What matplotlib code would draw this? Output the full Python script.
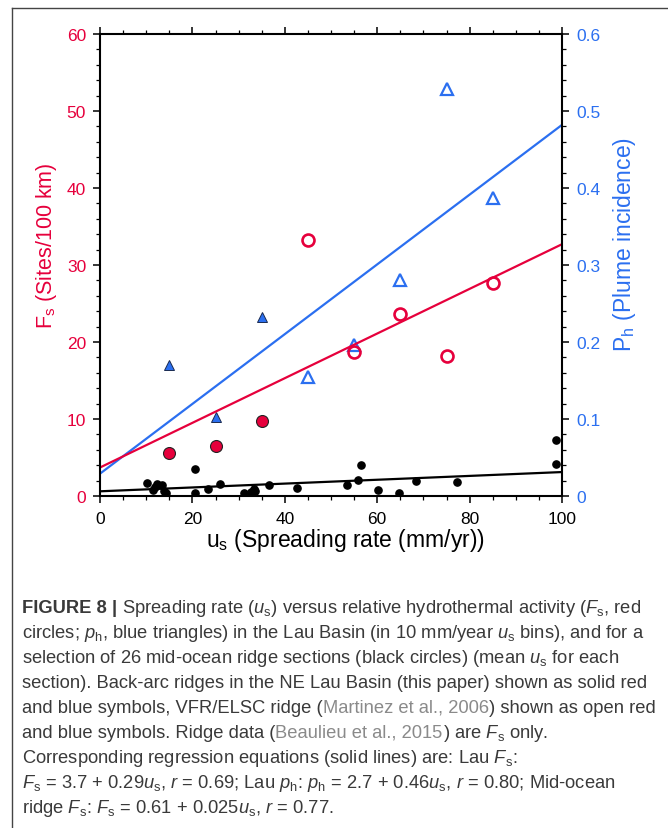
import matplotlib
matplotlib.use("Agg")
import matplotlib.pyplot as plt
from matplotlib.lines import Line2D
from matplotlib.ticker import MultipleLocator, FuncFormatter
import numpy as np

plt.rcParams['font.family'] = ['Liberation Sans', 'DejaVu Sans']
plt.rcParams['mathtext.fontset'] = 'custom'
plt.rcParams['mathtext.rm'] = 'Liberation Sans'
plt.rcParams['mathtext.it'] = 'Liberation Sans:italic'
plt.rcParams['mathtext.bf'] = 'Liberation Sans:bold'

# ---------------- data ----------------
lau_ne_us = [15, 25, 35]
lau_ne_fs = [5.6, 6.5, 9.7]
lau_ne_ph = [0.170, 0.102, 0.233]

vfr_us = [45, 55, 65, 75, 85]
vfr_fs = [33.2, 18.7, 23.6, 18.2, 27.6]
vfr_ph = [0.154, 0.196, 0.281, 0.529, 0.387]

mor_us = [10.2, 11.9, 11.5, 12.3, 13.4, 14.2, 13.9, 20.6, 20.5, 23.4, 25.9,
          31.1, 32.6, 33.3, 33.6, 36.6, 42.6, 53.5, 55.9, 56.4, 60.2, 64.8,
          68.4, 77.3, 98.6, 98.6]
mor_fs = [1.65, 1.2, 0.8, 1.5, 1.45, 0.35, 0.6, 3.5, 0.45, 0.85, 1.6,
          0.45, 0.5, 0.95, 0.6, 1.4, 1.0, 1.4, 2.1, 4.0, 0.75, 0.45,
          1.9, 1.85, 7.3, 4.2]

fit_lau_fs = (3.7, 0.29)      # intercept, slope
fit_lau_ph = (0.029, 0.00453)
fit_mor_fs = (0.61, 0.025)

x_ticks = [0, 20, 40, 60, 80, 100]
y_ticks = [0, 10, 20, 30, 40, 50, 60]
y2_ticks = [0, 0.1, 0.2, 0.3, 0.4, 0.5, 0.6]

RED = '#E6003C'
BLUE = '#2B6FF0'
GRAY = '#3a3a3a'
LGRAY = '#8a8a8a'

W, H = 668, 829
fig = plt.figure(figsize=(W / 100, H / 100), dpi=100)

# frame around figure
fig.add_artist(Line2D([12 / W, 1], [1 - 9 / H, 1 - 9 / H], transform=fig.transFigure,
                      color='#444444', lw=1.0))
fig.add_artist(Line2D([12 / W, 12 / W], [0, 1 - 9 / H], transform=fig.transFigure,
                      color='#444444', lw=1.0))

ax_l, ax_t, ax_r, ax_b = 100, 35, 562, 497
rect = [ax_l / W, 1 - ax_b / H, (ax_r - ax_l) / W, (ax_b - ax_t) / H]
ax2 = fig.add_axes(rect)
ax = fig.add_axes(rect)
ax.patch.set_visible(False)
ax2.set_zorder(1)
ax.set_zorder(2)

xs = np.array([0, 100])
# blue (right axis)
ax2.plot(xs, fit_lau_ph[0] + fit_lau_ph[1] * xs, color=BLUE, lw=1.6, zorder=2)
ax2.plot(lau_ne_us, lau_ne_ph, linestyle='none', marker='^', ms=7.5, mfc=BLUE,
         mec='#1a2a50', mew=0.7, zorder=3)
ax2.plot(vfr_us, vfr_ph, linestyle='none', marker='^', ms=8.0, mfc='none',
         mec=BLUE, mew=1.6, zorder=3)

# red and black (left axis)
ax.plot(xs, fit_lau_fs[0] + fit_lau_fs[1] * xs, color=RED, lw=1.6, zorder=2)
ax.plot(xs, fit_mor_fs[0] + fit_mor_fs[1] * xs, color='black', lw=1.6, zorder=2)
ax.plot(mor_us, mor_fs, linestyle='none', marker='o', ms=5.2, mfc='black',
        mec='black', zorder=3)
ax.plot(lau_ne_us, lau_ne_fs, linestyle='none', marker='o', ms=8.6, mfc=RED,
        mec='#222222', mew=0.8, zorder=4)
ax.plot(vfr_us, vfr_fs, linestyle='none', marker='o', ms=8.6, mfc='none',
        mec=RED, mew=1.9, zorder=4)

for a in (ax, ax2):
    a.set_xlim(0, 100)
    a.xaxis.set_major_locator(MultipleLocator(20))
    a.xaxis.set_minor_locator(MultipleLocator(5))
ax.set_ylim(0, 60)
ax2.set_ylim(0, 0.6)
ax.set_yticks(y_ticks)
ax.yaxis.set_minor_locator(MultipleLocator(2))
ax2.set_yticks(y2_ticks)
ax2.yaxis.set_minor_locator(MultipleLocator(0.02))
ax.set_xticks(x_ticks)

ax2.yaxis.tick_right()
ax2.yaxis.set_major_formatter(FuncFormatter(lambda v, p: '0' if abs(v) < 1e-9 else f'{v:.1f}'))
ax2.tick_params(axis='x', which='both', bottom=False, top=False, labelbottom=False)
for s in ax2.spines.values():
    s.set_visible(False)

for s in ax.spines.values():
    s.set_linewidth(1.5)
ax.spines['right'].set_visible(True)

TICK_FS = 12.5
ax.tick_params(axis='both', which='major', direction='out', length=5, width=1.1,
               labelsize=TICK_FS, pad=5)
ax.tick_params(axis='both', which='minor', direction='out', length=2.6, width=0.9)
ax.tick_params(axis='x', which='both', top=True, bottom=True)
ax.tick_params(axis='y', which='both', left=True, right=False)
ax.tick_params(axis='y', labelcolor=RED)
ax.tick_params(axis='x', labelcolor='black', pad=6)

ax2.tick_params(axis='y', which='major', direction='out', length=5, width=1.1,
                labelsize=TICK_FS, labelcolor=BLUE, pad=5)
ax2.tick_params(axis='y', which='minor', direction='out', length=2.6, width=0.9)

LAB_FS = 16.5
fig.text(345 / W, 1 - 541 / H, r'u$_\mathrm{s}$ (Spreading rate (mm/yr))',
         ha='center', va='center', fontsize=LAB_FS)
fig.text(47 / W, 1 - 246 / H, r'F$_\mathrm{s}$ (Sites/100 km)', rotation=90,
         ha='center', va='center', fontsize=15.5, color=RED)
fig.text(624 / W, 1 - 245 / H, r'P$_\mathrm{h}$ (Plume incidence)', rotation=90,
         ha='center', va='center', fontsize=LAB_FS, color=BLUE)

# ---------------- caption ----------------
u_s = r'$\mathit{u}_\mathrm{s}$'
F_s = r'$\mathit{F}_\mathrm{s}$'
p_h = r'$\mathit{p}_\mathrm{h}$'
r_ = r'$\mathit{r}$'

caption_lines = [
    [('FIGURE 8 |', 'bold', GRAY), (' ', None, None),
     (f'Spreading rate ({u_s}) versus relative hydrothermal activity ({F_s}, red', 'normal', GRAY)],
    [(f'circles; {p_h}, blue triangles) in the Lau Basin (in 10 mm/year {u_s} bins), and for a', 'normal', GRAY)],
    [(f'selection of 26 mid-ocean ridge sections (black circles) (mean {u_s} for each', 'normal', GRAY)],
    [('section). Back-arc ridges in the NE Lau Basin (this paper) shown as solid red', 'normal', GRAY)],
    [('and blue symbols, VFR/ELSC ridge (', 'normal', GRAY), ('Martinez et al., 2006', 'normal', LGRAY),
     (') shown as open red', 'normal', GRAY)],
    [('and blue symbols. Ridge data (', 'normal', GRAY), ('Beaulieu et al., 2015', 'normal', LGRAY),
     (f') are {F_s} only.', 'normal', GRAY)],
    [(f'Corresponding regression equations (solid lines) are: Lau {F_s}:', 'normal', GRAY)],
    [(f'{F_s} = 3.7 + 0.29{u_s}, {r_} = 0.69; Lau {p_h}: {p_h} = 2.7 + 0.46{u_s}, {r_} = 0.80; Mid-ocean', 'normal', GRAY)],
    [(f'ridge {F_s}: {F_s} = 0.61 + 0.025{u_s}, {r_} = 0.77.', 'normal', GRAY)],
]

cap_fs = 13.2
renderer = fig.canvas.get_renderer()
t1 = fig.text(0, 0, 'aa', fontsize=cap_fs)
t2 = fig.text(0, 0, 'a a', fontsize=cap_fs)
space_w = t2.get_window_extent(renderer).width - t1.get_window_extent(renderer).width
t1.remove(); t2.remove()

x0 = 22
base0 = 613
lh = 25
for i, segs in enumerate(caption_lines):
    y = base0 + i * lh
    x = x0
    for txt, wt, col in segs:
        if wt is None:
            x += space_w
            continue
        t = fig.text(x / W, 1 - y / H, txt, fontsize=cap_fs, fontweight=wt,
                     color=col, ha='left', va='baseline')
        x += t.get_window_extent(renderer).width

fig.savefig('out.png', dpi=100)
